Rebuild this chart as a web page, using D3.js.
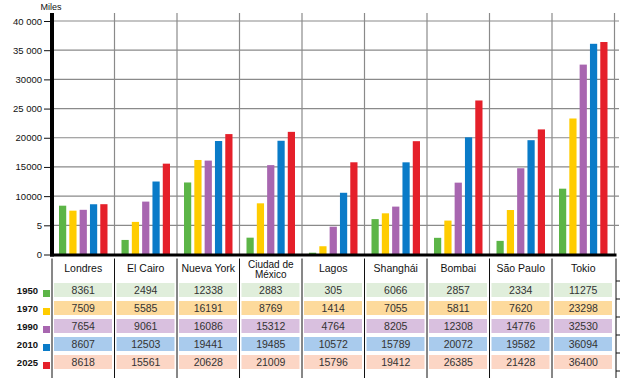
<html>
<head>
<meta charset="UTF-8">
<script src="https://d3js.org/d3.v7.min.js"></script>
<style>
  body { margin: 0; background: #fff; }
  text { font-family: "Liberation Sans", Arial, sans-serif; }
</style>
</head>
<body>
<svg id="chart" width="626" height="378"></svg>
<script>
// data
const cities = ['Londres', 'El Cairo', 'Nueva York', 'Ciudad de México', 'Lagos', 'Shanghái', 'Bombai', 'São Paulo', 'Tokio'];
const years = ['1950', '1970', '1990', '2010', '2025'];
const v1950 = [8361, 2494, 12338, 2883, 305, 6066, 2857, 2334, 11275];
const v1970 = [7509, 5585, 16191, 8769, 1414, 7055, 5811, 7620, 23298];
const v1990 = [7654, 9061, 16086, 15312, 4764, 8205, 12308, 14776, 32530];
const v2010 = [8607, 12503, 19441, 19485, 10572, 15789, 20072, 19582, 36094];
const v2025 = [8618, 15561, 20628, 21009, 15796, 19412, 26385, 21428, 36400];
const yTicks = [0, 5000, 10000, 15000, 20000, 25000, 30000, 35000, 40000];
const yTickLabels = ['0', '5', '10000', '15000', '20000', '25 000', '30000', '35 000', '40 000'];

const barColors = ['#5cb547', '#ffcc00', '#a866b0', '#0a7bc8', '#e5202a'];
const cellColors = ['#e0eedb', '#fdda9c', '#d9c0df', '#a9cbed', '#fcd6c5'];

const series = [v1950, v1970, v1990, v2010, v2025];
const rows = years.map((yr, i) => ({year: yr, values: series[i], i: i}));

const svg = d3.select('#chart');
const plotLeft = 52, plotRight = 614.5, plotTop = 21, base = 254.5;

const x0 = d3.scaleBand().domain(cities).range([plotLeft, plotRight]).padding(0);
const x1 = d3.scaleBand().domain(years).range([7, 55.5]).paddingInner(0.3);
const y = d3.scaleLinear().domain([0, 40000]).range([base, plotTop]);
const rowY = d3.scaleBand().domain(years).range([281, 371]);
const colorScale = d3.scaleOrdinal().domain(years).range(barColors);
const cellScale = d3.scaleOrdinal().domain(years).range(cellColors);

// gridlines
const grid = svg.append('g');
grid.selectAll('line.h').data(yTicks.slice(1))
  .join('line').attr('class', 'h')
  .attr('x1', plotLeft).attr('x2', 619)
  .attr('y1', d => y(d)).attr('y2', d => y(d))
  .attr('stroke', '#8a8a8a').attr('stroke-width', 1.2);
grid.selectAll('line.v').data(cities.slice(1).concat(['end']))
  .join('line').attr('class', 'v')
  .attr('x1', d => d === 'end' ? plotRight : x0(d)).attr('x2', d => d === 'end' ? plotRight : x0(d))
  .attr('y1', 13).attr('y2', base)
  .attr('stroke', '#8a8a8a').attr('stroke-width', 1.2);

// bars
const groups = svg.append('g').selectAll('g').data(cities).join('g')
  .attr('transform', d => `translate(${x0(d)},0)`);
groups.selectAll('rect')
  .data((c, ci) => rows.map(r => ({year: r.year, value: r.values[ci]})))
  .join('rect')
  .attr('x', d => x1(d.year))
  .attr('width', x1.bandwidth())
  .attr('y', d => y(d.value))
  .attr('height', d => base - y(d.value))
  .attr('fill', d => colorScale(d.year));

// y axis
const yAxis = d3.axisLeft(y).tickValues(yTicks)
  .tickFormat((d, i) => yTickLabels[i]).tickSize(8).tickPadding(2);
const ya = svg.append('g').attr('transform', `translate(${plotLeft},0)`).call(yAxis);
ya.select('.domain').remove();
ya.selectAll('text').style('font-size', '9.5px').attr('fill', '#111');
ya.selectAll('line').attr('stroke', '#111');
svg.append('line').attr('x1', plotLeft).attr('x2', plotLeft).attr('y1', 13).attr('y2', base + 2)
  .attr('stroke', '#000').attr('stroke-width', 4);
svg.append('line').attr('x1', plotLeft - 2).attr('x2', plotRight + 2).attr('y1', base + 0.5).attr('y2', base + 0.5)
  .attr('stroke', '#000').attr('stroke-width', 3);
svg.append('text').attr('x', 51).attr('y', 10).attr('text-anchor', 'middle')
  .style('font-size', '9px').attr('fill', '#111').text('Miles');

// table
const table = svg.append('g');
table.selectAll('line.sep').data(cities.concat(['end']))
  .join('line').attr('class', 'sep')
  .attr('x1', d => d === 'end' ? plotRight + 1.5 : x0(d)).attr('x2', d => d === 'end' ? plotRight + 1.5 : x0(d))
  .attr('y1', base + 4).attr('y2', 378)
  .attr('stroke', '#111').attr('stroke-width', 1);
table.selectAll('line.rt').data(years.concat(['end']))
  .join('line').attr('class', 'rt')
  .attr('x1', plotRight + 1.5).attr('x2', 620)
  .attr('y1', d => d === 'end' ? 371 : rowY(d)).attr('y2', d => d === 'end' ? 371 : rowY(d))
  .attr('stroke', '#111').attr('stroke-width', 1);

// headers
table.selectAll('text.head').data(cities).join('text').attr('class', 'head')
  .attr('x', d => x0(d) + x0.bandwidth() / 2)
  .attr('y', 272)
  .attr('text-anchor', 'middle')
  .style('font-size', '10.5px').attr('fill', '#111')
  .each(function(d) {
    const t = d3.select(this);
    if (d === 'Ciudad de México') {
      t.attr('y', 267.5).style('font-size', '10px');
      t.append('tspan').attr('x', x0(d) + x0.bandwidth() / 2).text('Ciudad de');
      t.append('tspan').attr('x', x0(d) + x0.bandwidth() / 2).attr('dy', 10.5).text('México');
    } else {
      t.text(d);
    }
  });

// rows
const rowG = table.selectAll('g.row').data(rows).join('g').attr('class', 'row')
  .attr('transform', d => `translate(0,${rowY(d.year)})`);
rowG.append('text').attr('x', 38).attr('y', 13)
  .attr('text-anchor', 'end').style('font-size', '9.5px').style('font-weight', 'bold')
  .attr('fill', '#111').text(d => d.year);
rowG.append('rect').attr('x', 43).attr('y', 9).attr('width', 7).attr('height', 7)
  .attr('fill', d => colorScale(d.year));
const cells = rowG.selectAll('g.cell')
  .data(r => cities.map((c, ci) => ({city: c, year: r.year, value: r.values[ci]})))
  .join('g').attr('class', 'cell');
cells.append('rect')
  .attr('x', d => x0(d.city) + 2).attr('y', 2)
  .attr('width', 58).attr('height', 14)
  .attr('fill', d => cellScale(d.year));
cells.append('text')
  .attr('x', d => x0(d.city) + x0.bandwidth() / 2).attr('y', 13)
  .attr('text-anchor', 'middle').style('font-size', '10.5px').attr('fill', '#333')
  .text(d => d.value);
</script>
</body>
</html>
